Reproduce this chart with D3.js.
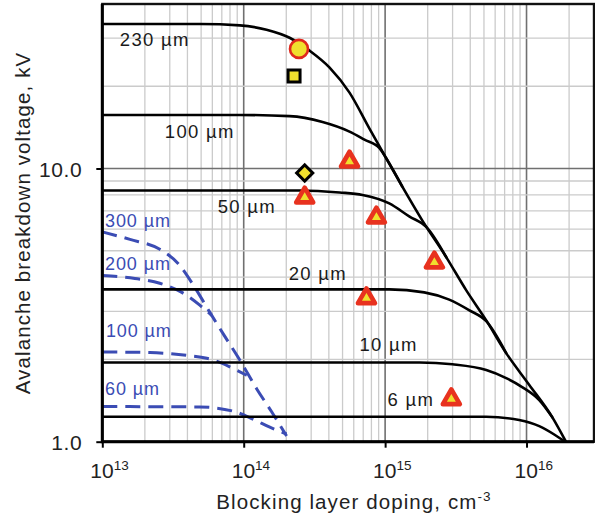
<!DOCTYPE html>
<html>
<head>
<meta charset="utf-8">
<script src="https://cdn.jsdelivr.net/npm/d3@7"></script>
<style>
  body { margin: 0; background: #fff; }
  text { font-family: 'Liberation Sans', Arial, sans-serif; }
</style>
</head>
<body>
<div class="canvas"></div>
<script>
// solid curves: blocking layer doping (cm-3) vs breakdown voltage (kV)
const dop230 = [1e13, 4.9e13, 9.4e13, 1.45e14, 2.11e14, 2.92e14, 4.05e14, 5.6e14, 7.75e14, 1.02e15, 1.32e15, 1.83e15, 2.71e15, 3.75e15, 5.19e15, 7.18e15, 1.04e16, 1.52e16, 1.9e16]
const bv230 = [33.8, 33.8, 33.4, 32.2, 30.1, 27.0, 23.4, 18.95, 14.0, 10.88, 8.6, 6.46, 4.73, 3.58, 2.78, 2.11, 1.62, 1.23, 1.0]
const dop100 = [1e13, 9.4e13, 2.11e14, 3.61e14, 5.6e14, 7.14e14, 9.12e14, 1.02e15, 1.32e15]
const bv100 = [15.7, 15.7, 15.55, 14.8, 13.65, 12.76, 11.88, 10.88, 8.6]
const dop50 = [1e13, 2.48e14, 4.76e14, 6.92e14, 1.07e15, 1.48e15, 1.96e15, 2.71e15]
const bv50 = [8.31, 8.31, 8.17, 8.0, 7.45, 6.68, 6.1, 4.73]
const dop20 = [1e13, 1.07e15, 1.89e15, 2.84e15, 3.92e15, 5.19e15, 7.18e15]
const bv20 = [3.61, 3.61, 3.52, 3.31, 3.03, 2.76, 2.11]
const dop10 = [1e13, 1.75e15, 2.99e15, 5.19e15, 7.18e15, 9.31e15, 1.23e16, 1.52e16]
const bv10 = [1.95, 1.95, 1.92, 1.83, 1.71, 1.585, 1.42, 1.23]
const dop6 = [1e13, 5.19e15, 8.87e15, 1.23e16, 1.59e16, 1.87e16]
const bv6 = [1.234, 1.234, 1.2, 1.14, 1.058, 1.0]

// dashed (blue) curves
const dopB300 = [1e13, 1.57e13, 2.55e13, 3.42e13, 4.51e13, 5.75e13, 7.35e13, 9.38e13, 1.24e14, 1.58e14, 2.01e14]
const bvB300 = [5.86, 5.5, 5.06, 4.5, 3.67, 2.98, 2.43, 1.99, 1.557, 1.284, 1.049]
const dopB200 = [1e13, 1.7e13, 2.55e13, 3.65e13, 4.89e13, 5.94e13]
const bvB200 = [4.06, 3.96, 3.8, 3.52, 3.16, 2.9]
const dopB100 = [1e13, 2.17e13, 3.96e13, 5.48e13, 7.0e13, 8.64e13, 1.05e14]
const bvB100 = [2.13, 2.12, 2.07, 2.02, 1.94, 1.84, 1.75]
const dopB60 = [1e13, 4.89e13, 8.36e13, 1.16e14, 1.53e14, 2.01e14]
const bvB60 = [1.345, 1.34, 1.295, 1.21, 1.13, 1.067]

// measured points
const circlePt = [2.46e14, 27.4]
const squarePt = [2.27e14, 21.8]
const diamondPt = [2.7e14, 9.63]
const triDop = [5.6e14, 2.7e14, 8.68e14, 2.23e15, 7.38e14, 2.94e15]
const triBv = [10.6, 7.83, 6.62, 4.53, 3.35, 1.43]

// curve labels: text, doping, voltage at label start/baseline
const blackLabels = ['230 µm', '100 µm', '50 µm', '20 µm', '10 µm', '6 µm']
const blackLabelDop = [1.33e13, 2.77e13, 6.55e13, 2.08e14, 6.59e14, 1.04e15]
const blackLabelBv = [28.1, 12.9, 6.88, 3.9, 2.14, 1.35]
const blueLabels = ['300 µm', '200 µm', '100 µm', '60 µm']
const blueLabelDop = [1.045e13, 1.045e13, 1.06e13, 1.045e13]
const blueLabelBv = [6.1, 4.24, 2.42, 1.48]

const xMajor = [1e13, 1e14, 1e15, 1e16]
const yMajor = [1, 10]

const svg = d3.select('.canvas').append('svg')
  .attr('width', 595)
  .attr('height', 520)

const x = d3.scaleLog().domain([1e13, 3e16]).range([102.3, 594])
const y = d3.scaleLog().domain([1, 40]).range([441.7, 4])

const blue = '#3b4cb4'

// grid
const grid = svg.append('g')
grid.selectAll('line.vx').data(x.ticks()).enter().append('line')
  .attr('x1', d => x(d)).attr('x2', d => x(d))
  .attr('y1', y(40)).attr('y2', y(1))
  .attr('stroke', d => xMajor.includes(d) ? '#707070' : '#cbcbcb')
  .attr('stroke-width', d => xMajor.includes(d) ? 1.6 : 1.3)
grid.selectAll('line.hy').data(y.ticks()).enter().append('line')
  .attr('y1', d => y(d)).attr('y2', d => y(d))
  .attr('x1', x(1e13)).attr('x2', x(3e16))
  .attr('stroke', d => yMajor.includes(d) ? '#707070' : '#cbcbcb')
  .attr('stroke-width', d => yMajor.includes(d) ? 1.6 : 1.3)

const line = d3.line()
  .x(d => x(d[0]))
  .y(d => y(d[1]))
  .curve(d3.curveMonotoneX)

// blue dashed curves
const dashed = [[dopB300, bvB300], [dopB200, bvB200], [dopB100, bvB100], [dopB60, bvB60]]
svg.append('g').selectAll('path').data(dashed).enter().append('path')
  .attr('d', d => line(d3.zip(d[0], d[1])))
  .attr('fill', 'none')
  .attr('stroke', blue)
  .attr('stroke-width', 3)
  .attr('stroke-dasharray', '15 8')

// black curves
const solid = [[dop230, bv230], [dop100, bv100], [dop50, bv50], [dop20, bv20], [dop10, bv10], [dop6, bv6]]
svg.append('g').selectAll('path').data(solid).enter().append('path')
  .attr('d', d => line(d3.zip(d[0], d[1])))
  .attr('fill', 'none')
  .attr('stroke', '#000')
  .attr('stroke-width', 2.6)
  .attr('stroke-linecap', 'round')

// axes
const xAxis = d3.axisBottom(x).tickValues(xMajor).tickSize(6).tickFormat('')
const xAxisGroup = svg.append('g')
  .attr('transform', `translate(0,${y(1)})`)
  .call(xAxis)
xAxisGroup.select('.domain').remove()
xAxisGroup.selectAll('.tick line').attr('stroke-width', 2)

const xLabels = svg.append('g').selectAll('text').data(xMajor).enter().append('text')
  .attr('x', d => x(d) - 12)
  .attr('y', 478)
  .attr('font-size', 21)
  .attr('fill', '#222')
xLabels.append('tspan').text('10')
xLabels.append('tspan')
  .attr('dy', -8)
  .attr('font-size', 13.5)
  .text(d => Math.round(Math.log10(d)))

const yAxis = d3.axisLeft(y).tickValues(yMajor).tickSize(6).tickPadding(14)
  .tickFormat(d3.format('.1f'))
const yAxisGroup = svg.append('g')
  .attr('transform', `translate(${x(1e13)},0)`)
  .call(yAxis)
yAxisGroup.select('.domain').remove()
yAxisGroup.selectAll('.tick line').attr('stroke-width', 2)
yAxisGroup.selectAll('.tick text')
  .attr('font-size', 21)
  .attr('font-family', "'Liberation Sans', Arial, sans-serif")
  .attr('letter-spacing', 0.6)
  .attr('fill', '#222')
  .attr('dy', '0.36em')

// frame
svg.append('rect')
  .attr('x', x(1e13)).attr('y', y(40))
  .attr('width', x(3e16) - x(1e13)).attr('height', y(1) - y(40))
  .attr('fill', 'none').attr('stroke', '#111').attr('stroke-width', 2.4)
svg.append('path')
  .attr('d', `M${x(1e13)},${y(40)}V${y(1)}H${x(3e16)}`)
  .attr('fill', 'none').attr('stroke', '#000').attr('stroke-width', 3)

// markers
svg.append('circle')
  .attr('cx', x(circlePt[0])).attr('cy', y(circlePt[1]))
  .attr('r', 9)
  .attr('fill', '#f0df2e').attr('stroke', '#e0281d').attr('stroke-width', 2.6)
svg.append('path')
  .attr('d', d3.symbol(d3.symbolSquare, 144)())
  .attr('transform', `translate(${x(squarePt[0])},${y(squarePt[1])})`)
  .attr('fill', '#f0df2e').attr('stroke', '#000').attr('stroke-width', 3)
svg.append('path')
  .attr('d', d3.symbol(d3.symbolSquare, 130)())
  .attr('transform', `translate(${x(diamondPt[0])},${y(diamondPt[1])}) rotate(45)`)
  .attr('fill', '#f0df2e').attr('stroke', '#000').attr('stroke-width', 3)
svg.append('g').selectAll('path').data(d3.zip(triDop, triBv)).enter().append('path')
  .attr('d', d3.symbol(d3.symbolTriangle, 125)())
  .attr('transform', d => `translate(${x(d[0])},${y(d[1])})`)
  .attr('fill', '#f0df2e').attr('stroke', '#e8321f').attr('stroke-width', 4.6)
  .attr('stroke-linejoin', 'round')

// curve labels
svg.append('g').selectAll('text').data(d3.zip(blackLabels, blackLabelDop, blackLabelBv)).enter().append('text')
  .attr('x', d => x(d[1])).attr('y', d => y(d[2]))
  .attr('font-size', 18.5)
  .attr('letter-spacing', 1.3)
  .attr('fill', '#1a1a1a')
  .text(d => d[0])
svg.append('g').selectAll('text').data(d3.zip(blueLabels, blueLabelDop, blueLabelBv)).enter().append('text')
  .attr('x', d => x(d[1])).attr('y', d => y(d[2]))
  .attr('font-size', 18)
  .attr('letter-spacing', 0.9)
  .attr('fill', blue)
  .text(d => d[0])

// axis titles
const xTitle = svg.append('text')
  .attr('x', 354).attr('y', 509)
  .attr('text-anchor', 'middle')
  .attr('font-size', 20.5)
  .attr('letter-spacing', 1.1)
  .attr('fill', '#222')
xTitle.append('tspan').text('Blocking layer doping, cm')
xTitle.append('tspan').attr('dy', -8).attr('font-size', 13.5).text('-3')

svg.append('text')
  .attr('transform', 'translate(30,223) rotate(-90)')
  .attr('text-anchor', 'middle')
  .attr('font-size', 20.5)
  .attr('letter-spacing', 1.1)
  .attr('fill', '#222')
  .text('Avalanche breakdown voltage, kV')
</script>
</body>
</html>
